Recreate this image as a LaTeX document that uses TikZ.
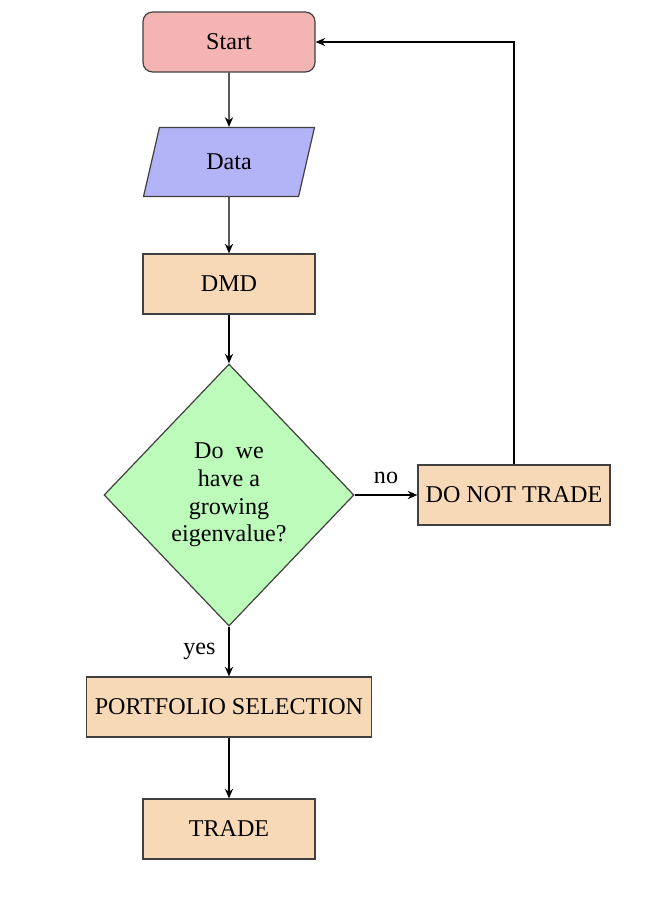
\documentclass[tikz,border=0pt]{standalone}
\usepackage{fontspec}
\setmainfont{Liberation Serif}
\usetikzlibrary{shapes.geometric,arrows.meta}
\definecolor{cstart}{HTML}{F4B4B4}
\definecolor{cdata}{HTML}{B3B3F8}
\definecolor{cproc}{HTML}{F8D9B7}
\definecolor{cdec}{HTML}{BDFBBA}
\begin{document}
\begin{tikzpicture}[x=0.415pt,y=-0.415pt,
  every node/.style={font=\fontsize{10}{11.5}\selectfont},
  base/.style={draw=black!75, line width=0.5pt, inner sep=0pt, align=center},
  startbox/.style={base, rectangle, rounded corners=4pt, fill=cstart,
    minimum width={172*0.415pt}, minimum height={60*0.415pt}},
  databox/.style={base, trapezium, trapezium left angle=72, trapezium right angle=108,
    trapezium stretches=true, fill=cdata,
    minimum width={171*0.415pt}, minimum height={69*0.415pt}},
  procbox/.style={base, rectangle, fill=cproc, minimum height={60*0.415pt}},
  decbox/.style={base, diamond, fill=cdec, aspect=0.95,
    minimum width={250*0.415pt}, minimum height={262*0.415pt}},
  arr/.style={line width=0.55pt, -{Stealth[length=4pt,width=3.4pt]}}]
\useasboundingbox (0,0) rectangle (646,900);
\node[startbox] (start) at (229,42) {Start};
\node[databox] (data) at (229,162) {Data};
\node[procbox, minimum width={172*0.415pt}] (dmd) at (229,284) {DMD};
\node[decbox] (dec) at (229,495) {Do\ \ we\\have a\\growing\\eigenvalue?};
\node[procbox, minimum width={192*0.415pt}] (dnt) at (514,495) {DO NOT TRADE};
\node[procbox, minimum width={285*0.415pt}] (port) at (229,707) {PORTFOLIO SELECTION};
\node[procbox, minimum width={172*0.415pt}] (trade) at (229,829) {TRADE};
\draw[arr] (start) -- (data);
\draw[arr] (data) -- (dmd);
\draw[arr] (dmd) -- (dec);
\draw[arr] (dec) -- node[above=1pt] {no} (dnt);
\draw[arr] (dec) -- node[left=2pt] {yes} (port);
\draw[arr] (port) -- (trade);
\draw[arr] (dnt.north) |- (start.east);
\end{tikzpicture}
\end{document}
